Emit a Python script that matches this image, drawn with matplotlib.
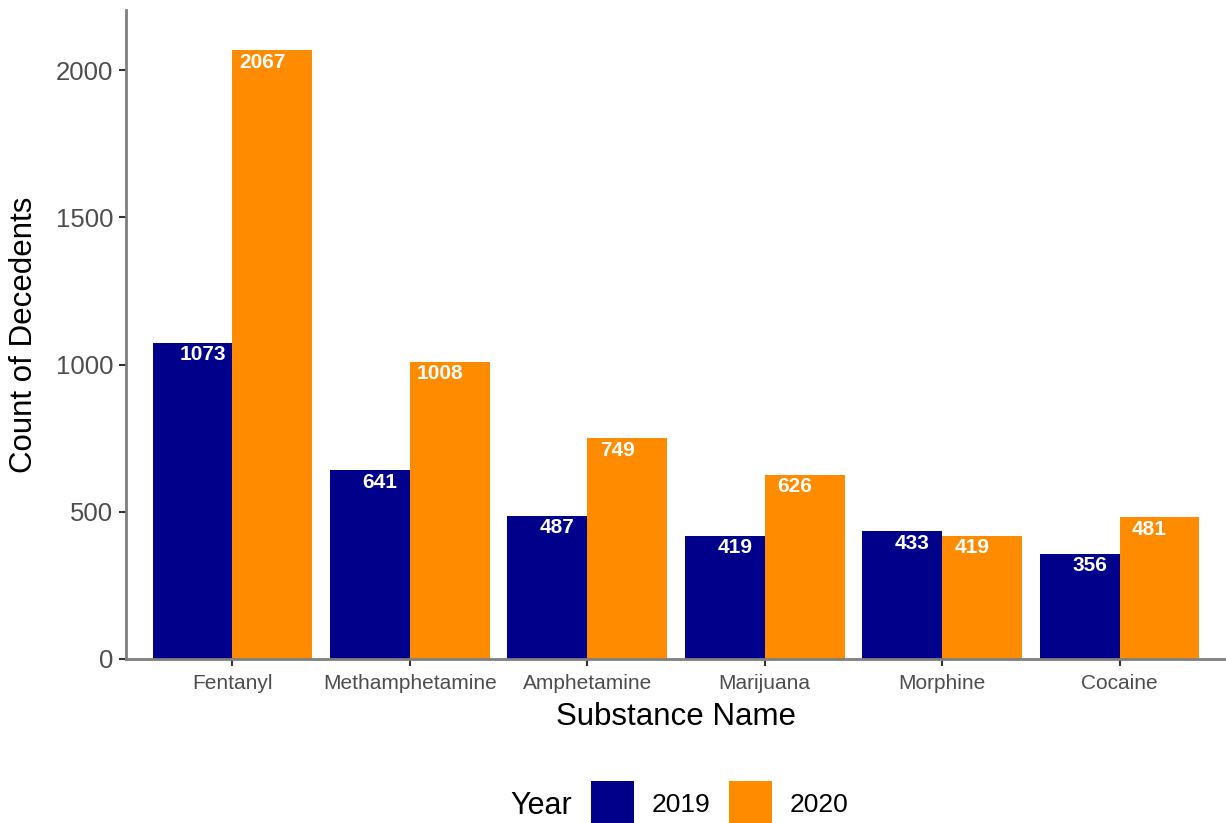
import numpy as np
import matplotlib
matplotlib.use('Agg')
import matplotlib.pyplot as plt
from matplotlib.patches import Patch

# Data
substances = ['Fentanyl', 'Methamphetamine', 'Amphetamine', 'Marijuana', 'Morphine', 'Cocaine']
count_2019 = [1073, 641, 487, 419, 433, 356]
count_2020 = [2067, 1008, 749, 626, 419, 481]
years = ['2019', '2020']
colors = ['#00008B', '#FF8C00']

plt.rcParams['font.family'] = ['Liberation Sans', 'DejaVu Sans']

W, H = 1226, 823
fig = plt.figure(figsize=(W / 100, H / 100), dpi=100)
# axes placed in pixel fractions
ax = fig.add_axes([126 / W, (H - 659) / H, (W - 126) / W, (659 - 10) / H])

x = np.arange(len(substances))
bw = 0.45
for vals, off, col in zip([count_2019, count_2020], [-bw / 2, bw / 2], colors):
    ax.bar(x + off, vals, width=bw, color=col, linewidth=0)
    # value labels, dodged a bit narrower than the bars
    for xi, v in zip(x, vals):
        ax.annotate(str(v), (xi + off * 0.75, v), xytext=(0, -8.5), textcoords='offset points',
                    ha='center', va='center', color='white', fontsize=15, fontweight='bold')

ax.set_xlim(-0.6, len(substances) - 0.4)
ax.set_ylim(0, 2204)
ax.set_yticks([0, 500, 1000, 1500, 2000])
ax.set_xticks(x)
ax.set_xticklabels(substances)

for s in ['top', 'right']:
    ax.spines[s].set_visible(False)
for s in ['left', 'bottom']:
    ax.spines[s].set_color('#7F7F7F')
    ax.spines[s].set_linewidth(2.0)

ax.tick_params(axis='both', length=5, width=1.5, color='#333333', labelcolor='#4D4D4D')
ax.tick_params(axis='y', labelsize=18.5, pad=4)
ax.tick_params(axis='x', labelsize=15, pad=6)

ax.set_xlabel('Substance Name', fontsize=22.5, color='black', labelpad=6)
ax.set_ylabel('Count of Decedents', fontsize=22.5, color='black', labelpad=12)

# legend at the bottom, title to the left of the keys
handles = [Patch(facecolor=c, edgecolor='none') for c in colors]
fig.legend(handles, years, loc='lower left', bbox_to_anchor=(591 / W, -0.004),
           ncol=2, frameon=False, fontsize=19, handlelength=1.63, handleheight=2.25,
           handletextpad=0.68, columnspacing=0.68, borderpad=0, borderaxespad=0)
fig.text(572 / W, (H - 814) / H, 'Year', fontsize=22, ha='right', va='baseline')

fig.savefig('out.png', dpi=100)
